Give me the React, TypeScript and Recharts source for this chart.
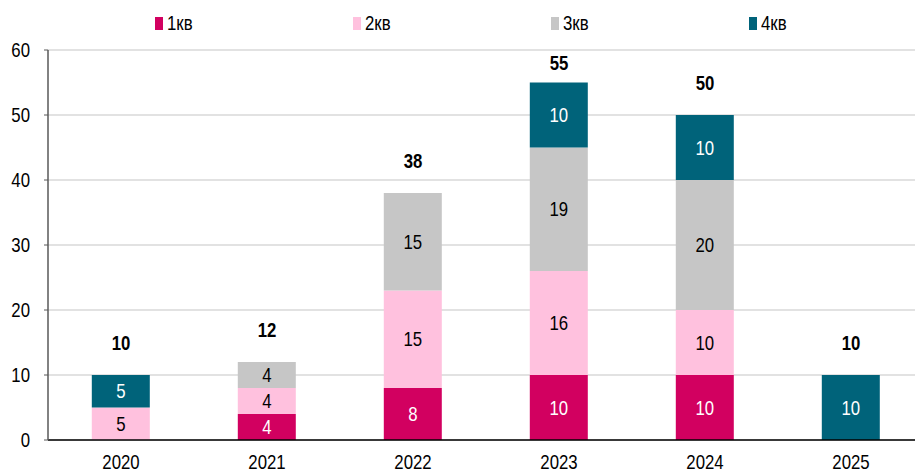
import React from "react";
import {
	ComposedChart,
	Bar,
	Line,
	XAxis,
	YAxis,
	CartesianGrid,
	Legend,
	LabelList,
} from "recharts";

const years = ["2020", "2021", "2022", "2023", "2024", "2025"];
const q1 = [0, 4, 8, 10, 10, 0];
const q2 = [5, 4, 15, 16, 10, 0];
const q3 = [0, 4, 15, 19, 20, 0];
const q4 = [5, 0, 0, 10, 10, 10];
const totals = [10, 12, 38, 55, 50, 10];
const yTicks = [0, 10, 20, 30, 40, 50, 60];

const series = [
	{ key: "q1", name: "1кв", color: "#D20060", text: "#ffffff" },
	{ key: "q2", name: "2кв", color: "#FFC1DE", text: "#000000" },
	{ key: "q3", name: "3кв", color: "#C6C6C6", text: "#000000" },
	{ key: "q4", name: "4кв", color: "#00637A", text: "#ffffff" },
];

// no narrow font installed, so squeeze Liberation Sans horizontally
const FONT = '"Liberation Sans", Arial, sans-serif';
const SQUEEZE = 0.84;

const chartData = years.map((year, i) => ({
	year,
	q1: q1[i],
	q2: q2[i],
	q3: q3[i],
	q4: q4[i],
	total: totals[i],
}));

const NarrowText = ({
	x,
	y,
	anchor = "middle",
	color = "#000",
	bold = false,
	children,
}: any) => (
	<text
		transform={`translate(${x},${y}) scale(${SQUEEZE},1)`}
		x={0}
		y={0}
		fill={color}
		textAnchor={anchor}
		dominantBaseline="central"
		fontFamily={FONT}
		fontSize={20}
		fontWeight={bold ? "bold" : "normal"}
	>
		{children}
	</text>
);

const LegendContent = () => (
	<div style={{ position: "relative", height: 36, fontFamily: FONT, fontSize: 20 }}>
		{series.map((s, i) => (
			<div
				key={s.key}
				style={{
					position: "absolute",
					left: 155 + i * 198,
					top: -2,
					display: "flex",
					alignItems: "center",
				}}
			>
				<span
					style={{
						display: "inline-block",
						width: 8,
						height: 13,
						background: s.color,
						marginRight: 4,
					}}
				/>
				<span
					style={{
						color: "#000",
						display: "inline-block",
						transform: `scaleX(${SQUEEZE})`,
						transformOrigin: "left center",
					}}
				>
					{s.name}
				</span>
			</div>
		))}
	</div>
);

const XTick = (props: any) => {
	const { x, y, payload } = props;
	return (
		<NarrowText x={x} y={y + 6}>
			{payload.value}
		</NarrowText>
	);
};

const YTick = (props: any) => {
	const { x, y, payload } = props;
	return (
		<NarrowText x={x} y={y} anchor="end">
			{payload.value}
		</NarrowText>
	);
};

const makeInnerLabel = (textColor: string) => (props: any) => {
	const { x, y, width, height, value } = props;
	if (!value) return null;
	return (
		<NarrowText x={x + width / 2} y={y + height / 2} color={textColor}>
			{value}
		</NarrowText>
	);
};

const TotalLabel = (props: any) => {
	const { x, y, value } = props;
	// the tallest total sits lower, just under the legend
	const ly = Math.max(y - 32, 63);
	return (
		<NarrowText x={x} y={ly} bold>
			{value}
		</NarrowText>
	);
};

export default function App() {
	return (
		<div
			style={{
				position: "absolute",
				left: 0,
				top: 0,
				width: 915,
				height: 474,
				overflow: "hidden",
				background: "#fff",
			}}
		>
			<ComposedChart
				width={930}
				height={474}
				data={chartData}
				margin={{ top: 14, right: 6, bottom: 4, left: 0 }}
				barCategoryGap="30%"
			>
				<Legend
					verticalAlign="top"
					height={36}
					content={<LegendContent />}
				/>
				<CartesianGrid
					vertical={false}
					stroke="#D9D9D9"
					strokeWidth={1.5}
				/>
				<XAxis
					dataKey="year"
					tickLine={false}
					axisLine={{ stroke: "#000", strokeWidth: 1.5 }}
					tick={<XTick />}
					tickMargin={10}
					height={30}
				/>
				<YAxis
					domain={[0, 60]}
					ticks={yTicks}
					width={48}
					tickSize={4}
					tickMargin={14}
					axisLine={{ stroke: "#595959", strokeWidth: 1.5 }}
					tickLine={{ stroke: "#595959" }}
					tick={<YTick />}
				/>
				{series.map((s) => (
					<Bar
						key={s.key}
						dataKey={s.key}
						name={s.name}
						stackId="a"
						fill={s.color}
						isAnimationActive={false}
					>
						<LabelList dataKey={s.key} content={makeInnerLabel(s.text)} />
					</Bar>
				))}
				<Line
					dataKey="total"
					stroke="none"
					dot={false}
					activeDot={false}
					legendType="none"
					isAnimationActive={false}
				>
					<LabelList dataKey="total" content={<TotalLabel />} />
				</Line>
			</ComposedChart>
		</div>
	);
}
